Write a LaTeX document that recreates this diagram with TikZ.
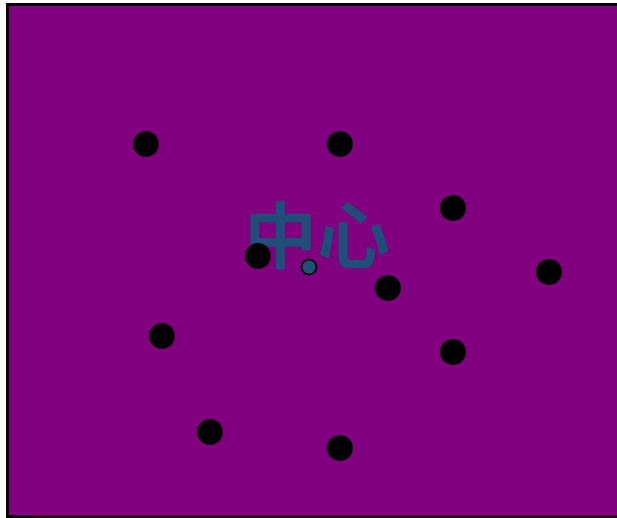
\documentclass[tikz,border=0pt]{standalone}
\usepackage{fontspec}
\newfontfamily\cjk[BoldFont={Noto Sans CJK SC Bold}]{Noto Sans CJK SC}
\definecolor{bgpurple}{RGB}{128,0,128}
\definecolor{txtblue}{RGB}{31,78,121}
\begin{document}
\begin{tikzpicture}[x=1pt,y=-1pt,
  dot/.style={circle,fill=black,inner sep=0pt,minimum size=26pt},
  centre/.style={circle,fill=txtblue,draw=black,line width=1.5pt,inner sep=0pt,minimum size=15pt}]
\useasboundingbox (0,0) rectangle (617,518);
\fill[bgpurple] (7,4.5) rectangle (625,516);
\draw[black,line width=3pt] (625,4.5) -- (7,4.5) -- (7,516) -- (625,516);
\node[inner sep=0pt,text=txtblue,font=\cjk\bfseries\fontsize{73pt}{73pt}\selectfont] (label) at (317,236) {中心};
\node[dot] (d1) at (146,144) {};
\node[dot] (d2) at (340,144) {};
\node[dot] (d3) at (453,208) {};
\node[dot] (d4) at (549,272) {};
\node[dot] (d5) at (258,256) {};
\node[dot] (d6) at (388,288) {};
\node[dot] (d7) at (162,336) {};
\node[dot] (d8) at (453,352) {};
\node[dot] (d9) at (210,432) {};
\node[dot] (d10) at (340,448) {};
\node[centre] (c) at (309,267) {};
\end{tikzpicture}
\end{document}
